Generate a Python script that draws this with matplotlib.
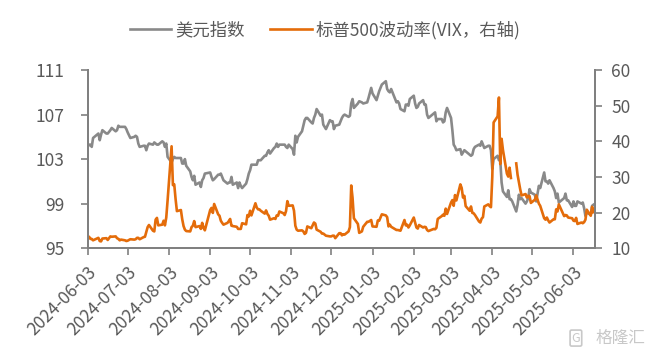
import matplotlib
matplotlib.use('Agg')
import matplotlib.pyplot as plt
import pandas as pd
import numpy as np

plt.rcParams['font.family'] = ['Noto Sans CJK SC', 'DejaVu Sans']

# trading days (US holidays removed, Good Friday kept: VIX missing that day)
holidays = ['2024-06-19', '2024-07-04', '2024-09-02', '2024-11-28', '2024-12-25',
            '2025-01-01', '2025-01-09', '2025-01-20', '2025-02-17', '2025-05-26']
dates = pd.bdate_range('2024-06-03', '2025-06-18')
dates = dates[~dates.isin(pd.to_datetime(holidays))]

# 美元指数, month by month
dxy = (
    [104.1, 104.3, 104.3, 104.1, 104.9, 105.2, 105.3, 104.7, 105.2, 105.6,
     105.3, 105.3, 105.6, 105.8, 105.5, 105.6, 106.0, 105.9, 105.9]
    + [105.9, 105.7, 105.4, 104.9, 105.0, 105.1, 105.0, 104.4, 104.1, 104.2, 104.2,
       103.8, 104.2, 104.4, 104.3, 104.5, 104.4, 104.3, 104.3, 104.6, 104.5, 104.1]
    + [104.4, 103.2, 102.7, 103.0, 103.2, 103.1, 103.1, 103.1, 102.6, 102.6, 103.0,
       102.4, 101.9, 101.4, 101.1, 101.5, 100.7, 100.9, 100.5, 101.1, 101.3, 101.7]
    + [101.8, 101.4, 101.1, 101.2, 101.6, 101.6, 101.7, 101.4, 101.1, 100.8,
       100.9, 100.9, 101.4, 100.7, 100.9, 100.4, 100.9, 100.6, 100.4, 100.8]
    + [101.2, 101.7, 102.0, 102.5, 102.5, 102.5, 102.9, 102.9, 102.9, 103.3, 103.3, 103.6,
       103.8, 103.5, 104.0, 104.1, 104.4, 104.1, 104.3, 104.3, 104.3, 104.1, 104.0]
    + [104.3, 103.9, 103.4, 105.1, 104.5, 105.0, 105.5, 106.0, 106.5, 106.7,
       106.7, 106.3, 106.2, 106.7, 107.0, 107.5, 106.9, 107.0, 106.1, 105.7]
    + [106.5, 106.4, 106.4, 105.7, 106.0, 106.1, 106.4, 106.7, 106.9, 107.0, 106.8,
       106.9, 108.0, 108.4, 107.6, 108.0, 108.2, 108.1, 108.0, 108.1, 108.5]
    + [109.4, 108.9, 108.3, 108.7, 109.1, 109.7, 110.0, 109.3, 109.1, 109.0,
       109.3, 108.1, 108.2, 108.0, 107.5, 107.3, 107.9, 107.9, 107.8, 108.4]
    + [108.7, 108.0, 107.6, 107.7, 108.0, 108.3, 107.9, 107.9, 107.0, 106.7,
       107.1, 107.2, 106.4, 106.6, 106.6, 106.3, 106.4, 107.2, 107.6]
    + [106.7, 105.6, 104.3, 104.1, 103.8, 103.9, 103.4, 103.6, 103.8, 103.7, 103.4,
       103.3, 103.4, 103.9, 104.1, 104.3, 104.2, 104.6, 104.3, 104.0, 104.2]
    + [104.2, 103.8, 102.1, 103.0, 103.3, 102.9, 102.9, 100.9, 100.1, 99.6, 100.2,
       99.4, 99.4, 99.2, 98.3, 98.9, 99.8, 99.4, 99.5, 99.0, 99.2, 99.5]
    + [100.3, 100.0, 99.8, 99.2, 99.9, 100.6, 100.4, 101.8, 101.0, 101.0, 100.8,
       101.1, 100.4, 100.1, 99.5, 99.9, 99.1, 99.5, 99.9, 99.3, 99.3]
    + [98.7, 99.2, 98.8, 98.8, 99.2, 99.0, 99.1, 98.6, 97.9, 98.2, 98.0, 98.8, 98.9]
)

# 标普500波动率 VIX, month by month
vix = (
    [13.1, 13.2, 12.6, 12.6, 12.2, 12.7, 12.9, 12.0, 11.9, 12.7,
     12.8, 12.3, 13.3, 13.2, 13.3, 12.8, 12.6, 12.2, 12.4]
    + [12.2, 12.0, 12.1, 12.5, 12.4, 12.5, 12.9, 12.9, 12.5, 13.1, 13.2,
       14.5, 15.9, 16.5, 14.9, 14.7, 18.0, 18.5, 16.4, 16.6, 17.7, 16.4]
    + [18.6, 23.4, 38.6, 27.7, 27.9, 23.8, 20.4, 20.7, 18.1, 16.2, 15.2,
       14.8, 14.7, 15.9, 16.3, 17.6, 15.9, 16.2, 15.4, 17.1, 15.7, 15.0]
    + [20.7, 21.3, 19.9, 22.4, 19.5, 19.1, 17.7, 17.1, 16.6, 17.1,
       17.6, 18.2, 16.3, 16.2, 16.0, 15.4, 15.4, 15.4, 17.0, 16.7]
    + [19.3, 18.9, 20.5, 19.2, 22.6, 21.4, 20.9, 20.9, 20.5, 19.7, 20.6, 19.6,
       19.1, 18.0, 18.4, 18.2, 19.2, 19.1, 20.3, 19.8, 19.3, 20.4, 23.2]
    + [21.9, 22.0, 20.5, 16.3, 15.2, 14.9, 15.0, 14.7, 14.0, 14.3,
       16.1, 15.6, 16.4, 17.2, 16.9, 15.2, 14.6, 14.1, 14.1, 13.5]
    + [13.3, 13.3, 13.5, 13.5, 12.8, 14.2, 14.2, 13.6, 13.9, 13.8, 14.7,
       15.9, 27.6, 24.1, 18.4, 16.8, 14.3, 14.7, 16.0, 17.4, 17.4]
    + [17.9, 16.1, 16.0, 17.8, 17.7, 19.5, 19.2, 18.7, 16.1, 16.6,
       16.0, 15.1, 15.1, 15.0, 14.9, 17.9, 16.4, 16.6, 15.8, 16.4]
    + [18.6, 17.2, 15.8, 15.5, 16.5, 15.8, 16.0, 15.9, 15.1, 14.8,
       15.4, 15.3, 15.7, 18.2, 19.0, 19.4, 19.1, 21.1, 19.6]
    + [22.8, 23.5, 21.9, 24.9, 23.4, 27.9, 26.9, 24.2, 24.7, 21.8, 20.5,
       21.7, 19.9, 19.8, 19.3, 17.5, 17.2, 18.3, 18.7, 21.7, 22.3]
    + [21.8, 21.5, 30.0, 45.3, 47.0, 52.3, 33.6, 40.7, 37.6, 30.9, 30.1,
       32.6, 29.7, np.nan, 33.8, 30.6, 28.5, 26.5, 24.8, 25.2, 24.2, 24.7]
    + [24.6, 22.7, 23.6, 24.8, 23.6, 22.5, 21.9, 18.4, 18.0, 18.6, 17.8,
       17.2, 18.1, 18.1, 20.9, 20.3, 22.3, 19.0, 19.3, 19.2, 18.6]
    + [18.4, 17.7, 17.6, 18.5, 16.8, 17.2, 17.0, 17.3, 18.0, 20.8, 19.1, 21.6, 20.1]
)

tick_dates = pd.date_range('2024-06-03', periods=13, freq=pd.DateOffset(months=1))
tick_labels = [d.strftime('%Y-%m-%d') for d in tick_dates]

axis_col = '#808080'
text_col = '#595959'

fig, ax = plt.subplots(figsize=(6.5, 3.54), dpi=100)
fig.subplots_adjust(left=0.135, right=0.915, top=0.802, bottom=0.299)
ax2 = ax.twinx()

l1, = ax.plot(dates, dxy, color='#898989', lw=1.9, label='美元指数')
l2, = ax2.plot(dates, vix, color='#E46C0A', lw=1.9, label='标普500波动率(VIX，右轴)')

ax.set_ylim(95, 111)
ax.set_yticks([95, 99, 103, 107, 111])
ax2.set_ylim(10, 60)
ax2.set_yticks(range(10, 61, 10))
ax.set_xlim(pd.Timestamp('2024-06-03'), pd.Timestamp('2025-06-19'))
ax.set_xticks(tick_dates)
ax.set_xticklabels(tick_labels, rotation=45, ha='right', rotation_mode='anchor')

for a in (ax, ax2):
    a.spines['top'].set_visible(False)
    for s in ('left', 'right', 'bottom'):
        a.spines[s].set_color(axis_col)
        a.spines[s].set_linewidth(1.4)
    a.tick_params(colors=axis_col, labelcolor=text_col, labelsize=12.5,
                  width=1.2, length=5)
ax.tick_params(axis='y', pad=12)
ax.tick_params(axis='x', pad=6)
ax2.tick_params(axis='y', pad=7)

fig.legend([l1, l2], [l1.get_label(), l2.get_label()], loc='center',
           bbox_to_anchor=(0.5, 0.915), ncol=2, frameon=False, fontsize=12.5,
           handlelength=2.4, handletextpad=0.2, columnspacing=1.5,
           labelcolor=text_col)

# watermark
fig.text(0.886, 0.045, 'G', ha='center', va='center', color='#c8c8c8', fontsize=9,
         bbox=dict(boxstyle='round,pad=0.12', fc='none', ec='#c8c8c8', lw=1.2))
fig.text(0.916, 0.045, '格隆汇', ha='left', va='center', color='#c8c8c8', fontsize=12)

fig.savefig('out.png', dpi=100)
